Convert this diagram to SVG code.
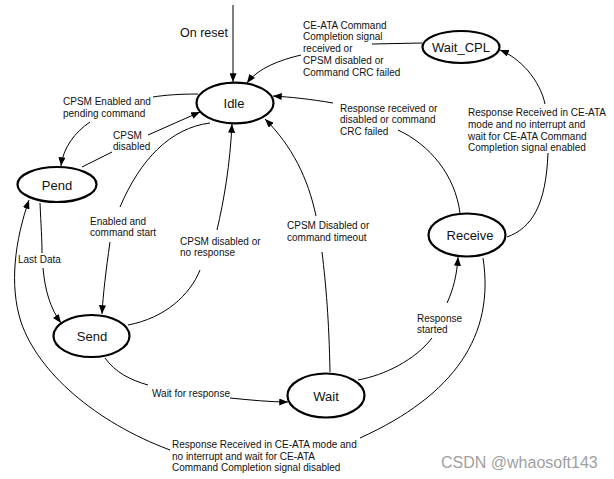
<svg xmlns="http://www.w3.org/2000/svg" width="614" height="479" viewBox="0 0 614 479">
<style>
.node ellipse{fill:#fff;stroke:#000;stroke-width:2.2}
.node text{font-family:"Liberation Sans",Arial,sans-serif;font-size:13px;text-anchor:middle;fill:#111}
.lbl{font-family:"Liberation Sans",Arial,sans-serif;font-size:10px;fill:#111}
.edges path{fill:none;stroke:#000;stroke-width:1}
.arr{marker-end:url(#ah)}
</style>
<defs>
<marker id="ah" viewBox="0 0 10 8" refX="10" refY="4" markerWidth="9" markerHeight="7" markerUnits="userSpaceOnUse" orient="auto">
<path d="M0,0 L10,4 L0,8 Z" fill="#000"/>
</marker>
</defs>
<rect width="614" height="479" fill="#fff"/>
<g class="edges">
<path class="arr" d="M233,5 L233,82"/>
<path d="M422,43 L372,44"/>
<path class="arr" d="M301,55 C280,60 258,68 247,83"/>
<path d="M198,94 C180,94 165,95 153,97"/>
<path class="arr" d="M90,122 C75,132 63,148 61,166"/>
<path d="M82,167 L112,152"/>
<path class="arr" d="M148,135 L200,112"/>
<path d="M210,123 C170,128 140,160 120,207"/>
<path class="arr" d="M110,242 C106,270 103,295 102,314"/>
<path d="M128,325 C165,318 190,295 200,270"/>
<path class="arr" d="M217,230 C224,200 230,165 232,124"/>
<path d="M330,372 C329,320 326,285 322,252"/>
<path class="arr" d="M316,216 C308,178 292,146 265,119"/>
<path d="M460,213 C455,175 430,145 398,130"/>
<path class="arr" d="M333,103 C310,99 290,97 273,96"/>
<path d="M507,237 C532,228 546,205 548,153"/>
<path class="arr" d="M545,104 C540,80 520,58 500,50"/>
<path d="M40,203 C41,225 42,240 42,253"/>
<path class="arr" d="M43,268 C45,290 50,308 61,323"/>
<path d="M105,358 C115,372 130,380 148,385"/>
<path class="arr" d="M230,398 C250,400 270,402 288,402"/>
<path d="M358,380 C385,375 415,360 432,338"/>
<path class="arr" d="M447,303 C453,290 457,275 458,257"/>
<path d="M483,258 C495,335 455,395 360,438"/>
<path class="arr" d="M170,450 C95,422 38,372 21,322 C9,285 15,240 29,200"/>
</g>
<g id="idle" class="node"><ellipse cx="235" cy="103" rx="38.5" ry="20.3"/><text x="234" y="108">Idle</text></g>
<g id="wait_cpl" class="node"><ellipse cx="461" cy="47" rx="38.5" ry="16"/><text x="461" y="52">Wait_CPL</text></g>
<g id="pend" class="node"><ellipse cx="57" cy="184.5" rx="39.5" ry="17.5"/><text x="57" y="190">Pend</text></g>
<g id="send" class="node"><ellipse cx="91.5" cy="336" rx="38" ry="21"/><text x="92" y="341">Send</text></g>
<g id="receive" class="node"><ellipse cx="467" cy="235" rx="38.5" ry="21.5"/><text x="470" y="240">Receive</text></g>
<g id="wait" class="node"><ellipse cx="326" cy="395.5" rx="38.5" ry="22"/><text x="326" y="401">Wait</text></g>
<g id="labels">
<text class="lbl" x="180" y="37" style="font-size:12.5px">On reset</text>
<text class="lbl" x="303"><tspan x="303" y="28.5">CE-ATA Command</tspan><tspan x="303" y="40.3">Completion signal</tspan><tspan x="303" y="52.1">received or</tspan><tspan x="303" y="63.9">CPSM disabled or</tspan><tspan x="303" y="75.7">Command CRC failed</tspan></text>
<text class="lbl"><tspan x="63" y="104.5">CPSM Enabled and</tspan><tspan x="63" y="116.8">pending command</tspan></text>
<text class="lbl"><tspan x="113" y="138.5">CPSM</tspan><tspan x="113" y="150">disabled</tspan></text>
<text class="lbl"><tspan x="90" y="224.5">Enabled and</tspan><tspan x="90" y="236">command start</tspan></text>
<text class="lbl"><tspan x="180" y="244.5">CPSM disabled or</tspan><tspan x="180" y="255.5">no response</tspan></text>
<text class="lbl" x="18" y="263">Last Data</text>
<text class="lbl"><tspan x="287" y="229">CPSM Disabled or</tspan><tspan x="287" y="241">command timeout</tspan></text>
<text class="lbl"><tspan x="340" y="112">Response received or</tspan><tspan x="340" y="123">disabled or command</tspan><tspan x="340" y="134.5">CRC failed</tspan></text>
<text class="lbl"><tspan x="468" y="116">Response Received in CE-ATA</tspan><tspan x="468" y="127.5">mode and no interrupt and</tspan><tspan x="468" y="139.5">wait for CE-ATA Command</tspan><tspan x="468" y="151">Completion signal enabled</tspan></text>
<text class="lbl"><tspan x="417" y="322">Response</tspan><tspan x="417" y="333">started</tspan></text>
<text class="lbl" x="152" y="397">Wait for response</text>
<text class="lbl"><tspan x="172" y="447.5">Response Received in CE-ATA mode and</tspan><tspan x="172" y="459.5">no interrupt and wait for CE-ATA</tspan><tspan x="172" y="470.5">Command Completion signal disabled</tspan></text>
<text x="441" y="468" style="font-family:'Liberation Sans',Arial,sans-serif;font-size:16px;fill:#a0a0a0">CSDN @whaosoft143</text>
</g>
</svg>
